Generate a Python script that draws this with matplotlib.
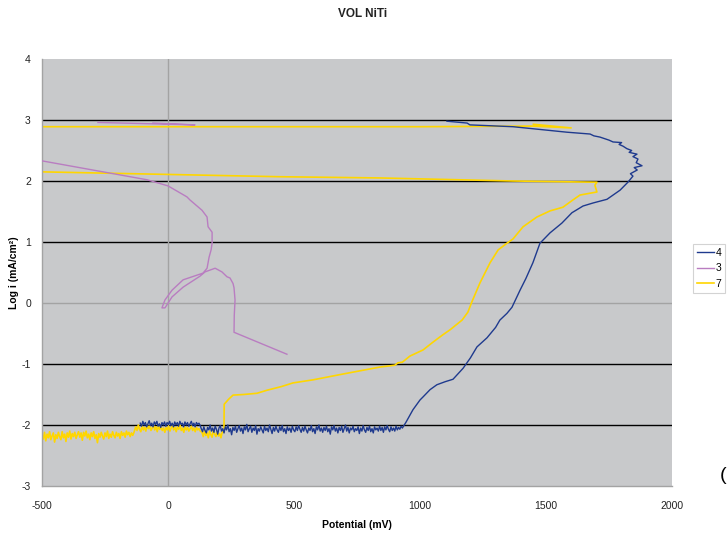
import numpy as np
import matplotlib
matplotlib.use("Agg")
import matplotlib.pyplot as plt

plt.rcParams['font.family'] = ['Liberation Sans', 'DejaVu Sans']
plt.rcParams['axes.unicode_minus'] = False

title = "VOL NiTi"
xlabel = "Potential (mV)"
ylabel = "Log i (mA/cm²)"
xticks = [-500, 0, 500, 1000, 1500, 2000]
yticks = [-3, -2, -1, 0, 1, 2, 3, 4]
series_names = ["4", "3", "7"]

# ---- Series 4 (navy) ----
s4_noise_a = [-1.97, -2.02, -1.94, -2.00, -1.96, -2.03, -1.98, -1.93, -2.01, -1.97,
              -2.03, -1.95, -1.99, -1.94, -2.02, -1.98, -2.04, -1.96, -2.00, -1.95,
              -2.02, -1.96, -1.99, -1.94, -2.01, -1.97, -2.03, -1.95, -2.00, -1.96,
              -2.02, -1.94, -1.99, -1.97, -2.03, -1.95, -2.00, -1.96, -2.02, -1.98,
              -1.94, -2.01, -1.97, -2.03, -1.96, -1.99, -1.97, -2.01]
s4_noise_a_range = (-110, 128)
s4_noise_b = [-2.06, -2.11, -2.03, -2.09, -2.13, -2.04, -2.08, -2.00, -2.10, -2.05,
              -2.12, -2.02, -2.07, -2.15, -2.05, -2.01, -2.10, -2.06, -2.13, -2.03,
              -2.08, -2.00, -2.11, -2.06, -2.16, -2.04, -2.09, -2.02, -2.12, -2.06,
              -2.01, -2.10, -2.05, -2.14, -2.03, -2.08, -1.99, -2.11, -2.06, -2.02,
              -2.12, -2.05, -2.09, -2.01, -2.15, -2.06, -2.10, -2.03, -2.08, -2.13,
              -2.02, -2.09, -2.05, -2.11, -2.00, -2.07, -2.14, -2.04, -2.10, -2.02,
              -2.08, -2.12, -2.03, -2.09, -2.01, -2.11, -2.06, -2.14, -2.03, -2.09,
              -2.05, -2.12, -2.02, -2.08, -2.11, -2.03, -2.09, -2.01, -2.07, -2.12,
              -2.04, -2.10, -2.02, -2.08, -2.13, -2.05, -2.09, -2.01, -2.11, -2.06,
              -2.14, -2.03, -2.08, -2.00, -2.10, -2.05, -2.12, -2.04, -2.09, -2.02,
              -2.11, -2.06, -2.15, -2.03, -2.08, -2.01, -2.10, -2.05, -2.13, -2.04,
              -2.09, -2.02, -2.12, -2.06, -2.00, -2.10, -2.04, -2.13, -2.05, -2.08,
              -2.02, -2.11, -2.06, -2.09, -2.03, -2.14, -2.05, -2.10, -2.01, -2.08,
              -2.12, -2.04, -2.09, -2.02, -2.11, -2.06, -2.13, -2.03, -2.08, -2.05,
              -2.10, -2.02, -2.09, -2.04, -2.12, -2.03, -2.08, -2.01, -2.07, -2.11,
              -2.03, -2.09, -2.05, -2.10, -2.02, -2.08, -2.04, -2.07, -2.02, -2.05]
s4_noise_b_range = (132, 930)
s4_rise_x = [945, 972, 1000, 1012, 1040, 1067, 1100, 1131, 1171, 1200, 1226, 1266, 1300,
             1317, 1345, 1365, 1397, 1420, 1448, 1476, 1516, 1563, 1603, 1647, 1687,
             1742, 1794, 1825, 1845, 1835, 1862, 1850, 1881, 1858, 1865, 1845, 1861,
             1830, 1840, 1821, 1806, 1790, 1800, 1766, 1750, 1714, 1690, 1675, 1583,
             1464, 1369, 1198, 1187, 1107]
s4_rise_y = [-1.95, -1.75, -1.59, -1.54, -1.42, -1.34, -1.29, -1.25, -1.07, -0.90, -0.72,
             -0.57, -0.40, -0.28, -0.17, -0.07, 0.21, 0.40, 0.66, 0.98, 1.15, 1.31, 1.48,
             1.59, 1.64, 1.70, 1.85, 1.98, 2.08, 2.12, 2.18, 2.22, 2.25, 2.30, 2.36, 2.40,
             2.44, 2.47, 2.50, 2.53, 2.57, 2.60, 2.63, 2.64, 2.67, 2.72, 2.74, 2.77, 2.80,
             2.85, 2.89, 2.92, 2.95, 2.98]

# ---- Series 3 (plum) ----
s3_x = [472, 262, 263, 266, 262, 258, 246, 234, 214, 187, 147, 127, 60, 16, -12, -24,
        -12, 16, 60, 139, 155, 159, 163, 171, 175, 175, 159, 155, 135, 87, 75, 0, -83,
        -500, -540, np.nan, -278, 107, -60]
s3_y = [-0.84, -0.48, -0.20, 0.05, 0.25, 0.32, 0.41, 0.43, 0.51, 0.57, 0.51, 0.44, 0.26,
        0.10, -0.08, -0.08, 0.05, 0.21, 0.38, 0.49, 0.57, 0.66, 0.75, 0.87, 0.98, 1.16,
        1.25, 1.41, 1.52, 1.69, 1.74, 1.92, 2.02, 2.33, 2.36, np.nan, 2.96, 2.92, 2.95]

# ---- Series 7 (yellow) ----
s7_noise_a = [-2.16, -2.23, -2.12, -2.26, -2.15, -2.21, -2.11, -2.24, -2.18, -2.13,
              -2.28, -2.16, -2.22, -2.12, -2.19, -2.24, -2.11, -2.21, -2.15, -2.27,
              -2.13, -2.20, -2.10, -2.23, -2.14, -2.19, -2.12, -2.22, -2.16, -2.11,
              -2.20, -2.13, -2.25, -2.12, -2.18, -2.10, -2.21, -2.15, -2.24, -2.13,
              -2.19, -2.11, -2.22, -2.16, -2.29, -2.14, -2.20, -2.12, -2.18, -2.23,
              -2.13, -2.19, -2.10, -2.22, -2.15, -2.20, -2.11, -2.17, -2.21, -2.12,
              -2.18, -2.14, -2.22, -2.11, -2.17, -2.13, -2.20, -2.10, -2.16, -2.12,
              -2.19, -2.13, -2.17, -2.12]
s7_noise_a_range = (-500, -135)
s7_noise_b = [-2.03, -2.09, -2.00, -2.07, -2.11, -2.02, -2.08, -2.04, -2.10, -1.99,
              -2.06, -2.02, -2.09, -2.05, -2.00, -2.08, -2.03, -2.11, -2.01, -2.07,
              -2.03, -2.09, -2.05, -2.12, -2.04, -2.08, -2.02, -2.10, -2.05, -2.01,
              -2.08, -2.04, -2.11, -2.03, -2.07, -2.00, -2.09, -2.05, -2.12, -2.03,
              -2.08, -2.04, -2.10, -2.06, -2.02, -2.09, -2.05, -2.11, -2.04, -2.08,
              -2.06, -2.10]
s7_noise_b_range = (-128, 128)
s7_noise_c = [-2.12, -2.19, -2.09, -2.17, -2.13, -2.21, -2.10, -2.16, -2.20, -2.08,
              -2.15, -2.19, -2.11, -2.18, -2.14, -2.21, -2.12, -2.10]
s7_noise_c_range = (135, 220)
s7_rest_x = [222, 223, 240, 258, 300, 353, 393, 450, 496, 575, 700, 841, 900, 913, 930,
             960, 1012, 1052, 1091, 1119, 1167, 1190, 1206, 1238, 1278, 1310, 1345,
             1369, 1409, 1464, 1516, 1567, 1607, 1635, 1702, 1694, 1702, 1369, 841,
             444, -500, -540, -540, -500, 1000, 1450, 1600, 1450]
s7_rest_y = [-2.12, -1.66, -1.58, -1.51, -1.50, -1.48, -1.43, -1.37, -1.31, -1.26, -1.16,
             -1.05, -1.02, -0.98, -0.97, -0.87, -0.77, -0.64, -0.52, -0.44, -0.28, -0.15,
             0.02, 0.33, 0.66, 0.87, 0.98, 1.05, 1.25, 1.41, 1.51, 1.57, 1.69, 1.77, 1.82,
             1.93, 1.98, 2.00, 2.05, 2.07, 2.15, 2.16, 2.89, 2.89, 2.89, 2.90, 2.87, 2.93]

c4 = "#1F3A8E"
c3 = "#B97DC1"
c7 = "#FFD600"


def seg(vals, rng):
    return np.linspace(rng[0], rng[1], len(vals)), np.array(vals)


x4a, y4a = seg(s4_noise_a, s4_noise_a_range)
x4b, y4b = seg(s4_noise_b, s4_noise_b_range)
x4 = np.concatenate([x4a, x4b, s4_rise_x])
y4 = np.concatenate([y4a, y4b, s4_rise_y])

x7a, y7a = seg(s7_noise_a, s7_noise_a_range)
x7b, y7b = seg(s7_noise_b, s7_noise_b_range)
x7c, y7c = seg(s7_noise_c, s7_noise_c_range)
x7 = np.concatenate([x7a, x7b, x7c, s7_rest_x])
y7 = np.concatenate([y7a, y7b, y7c, s7_rest_y])

fig = plt.figure(figsize=(7.27, 5.39), dpi=100)
ax = fig.add_axes([42 / 727, 1 - 486 / 539, 630 / 727, 427 / 539])
ax.set_facecolor("#C8C9CB")
ax.set_xlim(-500, 2000)
ax.set_ylim(-3, 4)

for yv in [-2, -1, 1, 2, 3]:
    ax.axhline(yv, color="black", lw=1.0, zorder=1)
ax.axhline(0, color="#A3A3A3", lw=1.0, zorder=1)
ax.axvline(0, color="#A3A3A3", lw=1.0, zorder=1)

l4, = ax.plot(x4, y4, color=c4, lw=1.0, zorder=3, label=series_names[0])
l3, = ax.plot(s3_x, s3_y, color=c3, lw=1.0, zorder=3, label=series_names[1])
l7, = ax.plot(x7, y7, color=c7, lw=1.2, zorder=2, label=series_names[2])

ax.set_xticks(xticks)
ax.set_yticks(yticks)
ax.tick_params(axis="both", labelsize=7.5, colors="#222222", length=0)
ax.tick_params(axis="x", pad=11)
ax.tick_params(axis="y", pad=8)
for s in ["top", "right"]:
    ax.spines[s].set_visible(False)
for s in ["left", "bottom"]:
    ax.spines[s].set_color("#A3A3A3")
    ax.spines[s].set_linewidth(1.0)

ax.set_xlabel(xlabel, fontsize=7.5, fontweight="bold", labelpad=6)
ax.set_ylabel(ylabel, fontsize=7.5, fontweight="bold", labelpad=4)
ax.yaxis.set_label_coords(-23 / 630, 0.5)
fig.text(363 / 727, 1 - 14 / 539, title, ha="center", va="center",
         fontsize=8.5, fontweight="bold", color="#222222")

leg = fig.legend(handles=[l4, l3, l7], loc="upper left",
                 bbox_to_anchor=(693 / 727, 1 - 244 / 539), fontsize=7.5,
                 frameon=True, fancybox=False, edgecolor="#C8C8C8",
                 handlelength=1.7, handletextpad=0.15, borderpad=0.35,
                 labelspacing=0.55, borderaxespad=0)
leg.get_frame().set_linewidth(0.8)

fig.text(720 / 727, 1 - 476 / 539, "(", ha="left", va="center", fontsize=14,
         color="black")

fig.savefig("out.png", dpi=100)
